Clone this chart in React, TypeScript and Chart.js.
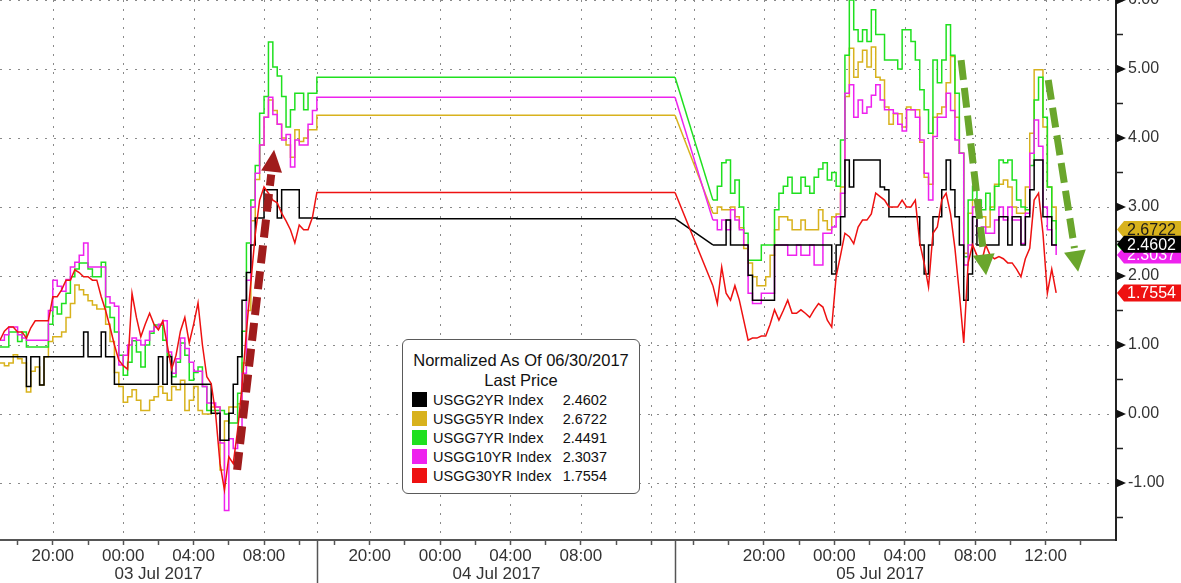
import React, { useEffect, useRef } from 'react';
import { Chart, registerables } from 'chart.js';

Chart.register(...registerables);

const FONT = '"Liberation Sans", Arial, sans-serif';

// ---- series meta ----
const seriesNames = ['USGG2YR Index', 'USGG5YR Index', 'USGG7YR Index', 'USGG10YR Index', 'USGG30YR Index'];
const seriesColors = ['#000000', '#d8b21d', '#1fe01f', '#ee22ee', '#ee1111'];
const lastPrices = [2.4602, 2.6722, 2.4491, 2.3037, 1.7554];
const legendTitle = 'Normalized As Of 06/30/2017';
const legendSubtitle = 'Last Price';

// ---- time axis (hours since 17:00, 02 Jul) ----
const jul3Times = Array.from({ length: 72 }, (_, i) => i * 0.25);
const jul4Times = [18.0, 38.35];
const jul5Times = Array.from({ length: 79 }, (_, i) => 40.5 + i * 0.25);
const xMax = 63.4;

const xTickTimes = [1, 3, 5, 7, 9, 11, 13, 15, 17, 19, 21, 23, 25, 27, 29, 31, 33, 35, 37,
  39.4, 41.4, 43.4, 45.4, 47.4, 49.4, 51.4, 53.4, 55.4, 57.4, 59.4, 61.4];
const xLabelTimes = [3, 7, 11, 15, 21, 25, 29, 33, 43.4, 47.4, 51.4, 55.4, 59.4];
const xLabelTexts = ['20:00', '00:00', '04:00', '08:00', '20:00', '00:00', '04:00', '08:00',
  '20:00', '00:00', '04:00', '08:00', '12:00'];
const xGridTimes = [3, 7, 11, 15, 18, 21, 25, 29, 33, 37, 38.35, 39.4, 43.4, 47.4, 51.4, 55.4, 59.4];
const daySeparators = [18.0, 38.35];
const dayLabelTimes = [9.0, 28.2, 50.0];
const dayLabels = ['03 Jul 2017', '04 Jul 2017', '05 Jul 2017'];

const yMin = -1.826;
const yMax = 6.0;
const yTickValues = [-1.5, -1, -0.5, 0, 0.5, 1, 1.5, 2, 2.5, 3, 3.5, 4, 4.5, 5, 5.5, 6];
const yGridValues = [-1, 0, 1, 2, 3, 4, 5, 6];

// ---- USGG2YR ----
const usgg2yrJul3 = [
  0.83, 0.83, 0.83, 0.83, 0.83, 0.83, 0.40, 0.83, 0.83, 0.42,
  0.83, 0.83, 0.83, 0.83, 0.83, 0.83, 0.83, 0.83, 0.83, 1.19,
  0.83, 0.83, 0.83, 1.19, 0.83, 0.83, 0.43, 0.43, 0.43, 0.43,
  0.43, 0.43, 0.43, 0.43, 0.43, 0.43, 0.83, 0.43, 0.83, 0.43,
  0.43, 0.43, 0.43, 0.43, 0.43, 0.43, 0.43, 0.43, 0.01, 0.01,
  -0.38, -0.38, 0.01, 0.43, 0.83, 1.65, 2.05, 2.45, 2.84, 2.84,
  3.25, 3.25, 3.25, 2.84, 3.25, 3.25, 3.25, 3.25, 2.84, 2.84,
  2.84, 2.84];
const usgg2yrJul4 = 2.83;
const usgg2yrJul5 = [
  2.45, 2.45, 2.45, 2.81, 2.45, 2.45, 2.45, 2.45, 2.01, 1.65,
  1.65, 1.65, 1.65, 1.65, 2.45, 2.45, 2.45, 2.45, 2.45, 2.45,
  2.45, 2.45, 2.45, 2.45, 2.45, 2.45, 2.45, 2.03, 2.45, 2.86,
  3.68, 3.29, 3.68, 3.68, 3.68, 3.68, 3.68, 3.68, 3.29, 3.25,
  2.86, 2.86, 2.86, 2.86, 2.86, 2.86, 2.86, 2.45, 2.03, 2.45,
  2.86, 2.86, 3.25, 3.68, 3.25, 2.86, 2.45, 1.65, 2.03, 2.86,
  2.45, 2.45, 2.45, 2.45, 2.45, 2.86, 2.86, 2.45, 2.86, 2.86,
  2.45, 2.86, 3.25, 3.68, 3.68, 2.86, 2.86, 2.45, 2.4602];

// ---- USGG5YR ----
const usgg5yrJul3 = [
  0.74, 0.70, 0.74, 0.86, 0.80, 0.74, 0.32, 0.62, 0.68, 0.42,
  0.83, 1.05, 1.12, 1.12, 1.19, 1.40, 1.60, 1.87, 1.80, 1.73,
  1.64, 1.58, 1.52, 1.52, 1.30, 1.05, 0.60, 0.40, 0.17, 0.25,
  0.35, 0.20, 0.05, 0.05, 0.20, 0.25, 0.40, 0.30, 0.20, 0.40,
  0.35, 0.49, 0.05, 0.20, 0.40, 0.05, 0.00, 0.00, 0.10, 0.10,
  -0.81, -0.10, 0.10, 0.10, 0.15, 0.74, 1.50, 2.80, 3.40, 3.90,
  4.30, 4.55, 4.40, 4.20, 4.00, 3.90, 3.72, 4.12, 3.95, 4.00,
  4.12, 4.12];
const usgg5yrJul4 = 4.33;
const usgg5yrJul5 = [
  2.91, 3.00, 2.96, 2.96, 3.00, 2.86, 2.70, 2.40, 2.19, 1.99,
  1.86, 1.86, 1.99, 2.30, 2.67, 2.86, 2.86, 2.81, 2.67, 2.67,
  2.81, 2.67, 2.67, 2.67, 2.96, 2.80, 2.67, 2.86, 2.90, 3.29,
  4.60, 5.30, 4.88, 5.10, 5.27, 5.03, 5.32, 4.88, 4.84, 4.45,
  4.20, 4.35, 4.35, 4.16, 4.45, 4.41, 4.41, 3.94, 3.43, 3.33,
  4.30, 4.35, 4.45, 4.80, 5.18, 4.30, 3.78, 2.33, 2.91, 3.10,
  2.86, 2.86, 2.71, 3.00, 3.33, 3.33, 3.39, 3.29, 3.00, 2.91,
  2.91, 3.29, 4.07, 4.99, 4.99, 4.16, 3.29, 3.00, 2.6722];

// ---- USGG7YR ----
const usgg7yrJul3 = [
  0.97, 0.97, 1.19, 1.19, 1.05, 1.19, 0.97, 0.97, 0.97, 0.97,
  0.97, 1.30, 1.55, 1.45, 1.60, 1.75, 1.99, 2.10, 2.19, 2.19,
  2.10, 1.99, 1.99, 2.20, 1.55, 1.40, 1.19, 0.85, 0.56, 0.75,
  1.06, 0.90, 0.68, 1.00, 1.17, 1.29, 1.29, 1.07, 0.85, 0.54,
  0.75, 1.03, 0.85, 0.49, 0.60, 0.68, 0.40, 0.05, 0.05, 0.05,
  0.05, 0.00, -0.13, -0.13, 0.30, 1.20, 2.48, 3.10, 3.60, 4.36,
  4.60, 5.39, 5.03, 4.90, 4.60, 4.16, 4.41, 4.65, 4.65, 4.41,
  4.65, 4.65];
const usgg7yrJul4 = 4.88;
const usgg7yrJul5 = [
  3.10, 3.30, 3.64, 3.68, 3.20, 3.39, 3.00, 2.62, 2.23, 2.23,
  2.23, 2.45, 2.45, 2.45, 2.96, 3.20, 3.30, 3.43, 3.20, 3.20,
  3.43, 3.30, 3.20, 3.43, 3.55, 3.64, 3.39, 3.50, 3.30, 3.97,
  5.20, 6.00, 5.57, 5.40, 5.57, 5.40, 5.86, 5.50, 5.50, 5.13,
  5.13, 5.13, 5.00, 5.57, 5.57, 5.40, 5.13, 4.70, 4.41, 4.07,
  5.13, 4.80, 5.13, 5.64, 5.20, 4.65, 3.78, 2.28, 3.10, 3.30,
  3.10, 2.96, 3.20, 2.96, 3.30, 3.68, 3.64, 3.68, 3.39, 3.10,
  3.00, 2.96, 3.60, 4.55, 4.88, 4.30, 3.29, 2.80, 2.4491];

// ---- USGG10YR ----
const usgg10yrJul3 = [
  1.07, 1.15, 1.26, 1.26, 1.15, 1.10, 1.07, 1.07, 1.07, 1.07,
  1.07, 1.50, 1.94, 1.85, 1.78, 1.95, 2.13, 2.20, 2.30, 2.48,
  2.13, 2.13, 2.13, 2.13, 1.70, 1.61, 1.56, 0.71, 0.85, 1.00,
  1.10, 1.07, 1.00, 1.07, 1.20, 1.26, 1.30, 1.35, 0.90, 0.59,
  0.80, 1.10, 0.95, 0.75, 0.62, 0.62, 0.40, 0.16, 0.16, 0.10,
  -0.42, -1.40, -0.36, -0.50, -0.40, 0.59, 1.94, 3.00, 3.49, 3.90,
  4.30, 4.59, 4.34, 4.20, 3.97, 4.05, 3.58, 3.97, 3.90, 3.90,
  4.20, 4.40];
const usgg10yrJul4 = 4.59;
const usgg10yrJul5 = [
  2.81, 2.67, 2.81, 2.67, 2.96, 2.81, 2.67, 2.45, 1.75, 1.60,
  1.60, 1.75, 1.75, 1.75, 2.45, 2.45, 2.45, 2.30, 2.30, 2.45,
  2.30, 2.30, 2.45, 2.16, 2.16, 2.62, 2.62, 2.71, 2.86, 3.20,
  4.65, 4.77, 4.30, 4.55, 4.36, 4.45, 4.62, 4.77, 4.55, 4.41,
  4.41, 4.36, 4.20, 4.10, 4.41, 4.41, 4.30, 3.97, 3.49, 3.10,
  4.02, 4.30, 4.30, 4.65, 4.40, 3.97, 3.78, 2.16, 2.45, 3.00,
  2.62, 2.71, 2.62, 2.62, 2.81, 3.00, 2.81, 3.00, 2.81, 2.81,
  2.47, 2.91, 3.78, 4.26, 3.88, 3.00, 2.67, 2.45, 2.3037];

// ---- USGG30YR ----
const usgg30yrJul3 = [
  1.07, 1.20, 1.26, 1.26, 1.19, 1.19, 1.10, 1.25, 1.35, 1.35,
  1.35, 1.35, 1.70, 1.70, 1.80, 1.94, 1.94, 2.09, 2.05, 1.99,
  1.99, 1.94, 1.94, 1.70, 1.50, 1.26, 1.00, 0.78, 0.70, 0.65,
  1.75, 1.40, 1.12, 1.30, 1.46, 1.30, 1.22, 1.35, 1.00, 0.65,
  0.85, 1.20, 1.40, 1.03, 1.30, 1.61, 1.00, 0.54, 0.44, 0.00,
  -0.72, -1.10, -0.62, -0.72, -0.23, 0.40, 1.20, 1.90, 2.60, 3.10,
  3.29, 3.20, 3.10, 3.06, 2.91, 2.80, 2.67, 2.48, 2.74, 2.67,
  2.67, 2.85];
const usgg30yrJul4 = 3.21;
const usgg30yrJul5 = [
  1.86, 1.60, 2.13, 1.75, 1.65, 1.86, 1.65, 1.36, 1.07, 1.10,
  1.10, 1.13, 1.13, 1.30, 1.51, 1.36, 1.50, 1.65, 1.46, 1.46,
  1.51, 1.46, 1.40, 1.51, 1.60, 1.55, 1.36, 1.26, 1.99, 2.30,
  2.62, 2.57, 2.47, 2.71, 2.81, 2.81, 2.90, 3.20, 3.15, 3.10,
  3.00, 3.00, 3.00, 3.10, 3.00, 3.00, 3.10, 2.48, 2.19, 1.84,
  2.62, 2.71, 3.10, 3.20, 2.90, 2.40, 1.75, 1.03, 2.19, 2.45,
  2.30, 2.19, 2.45, 2.30, 2.25, 2.28, 2.25, 2.19, 2.19, 2.10,
  1.99, 2.25, 2.40, 3.10, 3.20, 2.62, 1.75, 2.10, 1.7554];

// ---- annotation arrows (time in hours, value) ----
const arrowTails = [[13.47, -0.81], [54.6, 5.13], [59.55, 4.84]];
const arrowTips = [[15.57, 3.83], [56.02, 2.01], [61.25, 2.06]];
const arrowColors = ['#a01c1c', '#6aa62c', '#6aa62c'];

const seriesJul3 = [usgg2yrJul3, usgg5yrJul3, usgg7yrJul3, usgg10yrJul3, usgg30yrJul3];
const seriesJul4 = [usgg2yrJul4, usgg5yrJul4, usgg7yrJul4, usgg10yrJul4, usgg30yrJul4];
const seriesJul5 = [usgg2yrJul5, usgg5yrJul5, usgg7yrJul5, usgg10yrJul5, usgg30yrJul5];
const drawOrder = [1, 4, 3, 2, 0];
const tagOrder = [2, 3, 1, 4, 0];

function buildDatasets() {
  const out: any[] = [];
  seriesNames.forEach((name, i) => {
    const a = [
      ...jul3Times.map((t, k) => ({ x: t, y: seriesJul3[i][k] })),
      ...jul4Times.map((t) => ({ x: t, y: seriesJul4[i] })),
    ];
    const b = jul5Times.map((t, k) => ({ x: t, y: seriesJul5[i][k] }));
    const stepped = i !== 4;
    const base = {
      borderColor: seriesColors[i],
      backgroundColor: seriesColors[i],
      borderWidth: 1.5,
      pointRadius: 0,
      fill: false,
      tension: 0,
      order: drawOrder[i],
    };
    out.push({ ...base, label: name, data: a, stepped });
    out.push({ ...base, label: name + ' bridge', data: [a[a.length - 1], b[0]], stepped: false });
    out.push({ ...base, label: name + ' 05', data: b, stepped });
  });
  return out;
}

function drawArrow(ctx: CanvasRenderingContext2D, x0: number, y0: number, x1: number, y1: number,
  color: string, w: number, headLen: number, headW: number, dash: number[]) {
  const dx = x1 - x0, dy = y1 - y0;
  const L = Math.hypot(dx, dy);
  const ux = dx / L, uy = dy / L;
  const bx = x1 - ux * headLen, by = y1 - uy * headLen;
  ctx.save();
  ctx.strokeStyle = color;
  ctx.lineWidth = w;
  ctx.setLineDash(dash);
  ctx.lineCap = 'butt';
  ctx.beginPath();
  ctx.moveTo(x0, y0);
  ctx.lineTo(bx - ux * 3, by - uy * 3);
  ctx.stroke();
  ctx.setLineDash([]);
  ctx.fillStyle = color;
  ctx.beginPath();
  ctx.moveTo(x1, y1);
  ctx.lineTo(bx - uy * headW / 2, by + ux * headW / 2);
  ctx.lineTo(bx + uy * headW / 2, by - ux * headW / 2);
  ctx.closePath();
  ctx.fill();
  ctx.restore();
}

const overlayPlugin = {
  id: 'overlay',
  beforeDatasetsDraw(chart: any) {
    const { ctx, chartArea: a, scales } = chart;
    const x = scales.x, y = scales.y;
    ctx.save();
    ctx.strokeStyle = '#8a8a8a';
    ctx.lineWidth = 1;
    ctx.setLineDash([2, 7]);
    xGridTimes.forEach((t) => {
      const px = Math.round(x.getPixelForValue(t)) + 0.5;
      ctx.beginPath();
      ctx.moveTo(px, a.top);
      ctx.lineTo(px, a.bottom);
      ctx.stroke();
    });
    yGridValues.forEach((v) => {
      const py = Math.round(y.getPixelForValue(v)) + 0.5;
      ctx.beginPath();
      ctx.moveTo(a.left, py);
      ctx.lineTo(a.right, py);
      ctx.stroke();
    });
    ctx.restore();
  },
  afterDatasetsDraw(chart: any) {
    const { ctx, scales } = chart;
    const x = scales.x, y = scales.y;
    arrowTails.forEach((tail, i) => {
      const tip = arrowTips[i];
      const red = i === 0;
      drawArrow(ctx, x.getPixelForValue(tail[0]), y.getPixelForValue(tail[1]),
        x.getPixelForValue(tip[0]), y.getPixelForValue(tip[1]), arrowColors[i],
        red ? 8 : 7, red ? 22 : 21, red ? 21 : 22, red ? [18, 8] : [20, 8]);
    });
  },
  afterDraw(chart: any) {
    const { ctx, chartArea: a, scales } = chart;
    const x = scales.x, y = scales.y;
    ctx.save();
    // day separators
    ctx.strokeStyle = '#555';
    ctx.lineWidth = 1.5;
    daySeparators.forEach((t) => {
      const px = Math.round(x.getPixelForValue(t)) + 0.5;
      ctx.beginPath();
      ctx.moveTo(px, a.bottom);
      ctx.lineTo(px, x.bottom);
      ctx.stroke();
    });
    // day labels
    ctx.fillStyle = '#333';
    ctx.font = `17px ${FONT}`;
    ctx.textAlign = 'center';
    ctx.textBaseline = 'alphabetic';
    dayLabels.forEach((d, i) => {
      ctx.fillText(d, x.getPixelForValue(dayLabelTimes[i]), x.bottom - 4);
    });
    // major tick triangles on right axis
    ctx.fillStyle = '#111';
    yGridValues.forEach((v) => {
      const py = y.getPixelForValue(v);
      ctx.beginPath();
      ctx.moveTo(a.right, py - 4.5);
      ctx.lineTo(a.right + 10, py);
      ctx.lineTo(a.right, py + 4.5);
      ctx.closePath();
      ctx.fill();
    });
    // last price tags
    ctx.font = `16px ${FONT}`;
    ctx.textAlign = 'left';
    ctx.textBaseline = 'middle';
    tagOrder.forEach((i) => {
      const py = y.getPixelForValue(lastPrices[i]);
      const h = 8.5;
      ctx.fillStyle = seriesColors[i];
      ctx.beginPath();
      ctx.moveTo(a.right + 1, py);
      ctx.lineTo(a.right + 8, py - h);
      ctx.lineTo(chart.width, py - h);
      ctx.lineTo(chart.width, py + h);
      ctx.lineTo(a.right + 8, py + h);
      ctx.closePath();
      ctx.fill();
      ctx.fillStyle = i === 1 || i === 2 ? '#1a1a1a' : '#ffffff';
      ctx.fillText(lastPrices[i].toFixed(4), a.right + 11, py + 1);
    });
    ctx.restore();
  },
};

function labelFor(v: number) {
  const k = xLabelTimes.findIndex((t) => Math.abs(t - v) < 1e-6);
  return k >= 0 ? xLabelTexts[k] : '';
}

function Legend() {
  return (
    <div style={{
      position: 'absolute', left: 402, top: 339, width: 238, height: 155,
      border: '1px solid #5a5a5a', borderRadius: 6, background: '#fff',
      boxSizing: 'border-box', paddingTop: 10, color: '#111', fontFamily: FONT,
    }}>
      <div style={{ textAlign: 'center', fontSize: 16.5, lineHeight: '20px', whiteSpace: 'nowrap' }}>{legendTitle}</div>
      <div style={{ textAlign: 'center', fontSize: 16.5, lineHeight: '20px' }}>{legendSubtitle}</div>
      {seriesNames.map((n, i) => (
        <div key={n} style={{ display: 'flex', alignItems: 'center', height: 19, paddingLeft: 9, fontSize: 14.5, whiteSpace: 'nowrap' }}>
          <span style={{ display: 'inline-block', width: 15, height: 15, background: seriesColors[i], marginRight: 6 }} />
          <span style={{ flex: 1 }}>{n}</span>
          <span style={{ marginRight: 32 }}>{lastPrices[i].toFixed(4)}</span>
        </div>
      ))}
    </div>
  );
}

export default function App() {
  const canvasRef = useRef<HTMLCanvasElement>(null);
  useEffect(() => {
    const chart = new Chart(canvasRef.current as HTMLCanvasElement, {
      type: 'line',
      data: { datasets: buildDatasets() },
      options: {
        animation: false,
        responsive: false,
        maintainAspectRatio: false,
        layout: { padding: 0, autoPadding: false },
        plugins: { legend: { display: false }, tooltip: { enabled: false } },
        elements: { point: { radius: 0 } },
        scales: {
          x: {
            type: 'linear', position: 'bottom', min: 0, max: xMax,
            afterBuildTicks: (s: any) => { s.ticks = xTickTimes.map((v) => ({ value: v })); },
            afterFit: (s: any) => { s.height = 43; s.paddingLeft = 0; s.paddingRight = 0; },
            ticks: {
              autoSkip: false, maxRotation: 0, minRotation: 0, padding: 1,
              color: '#333', font: { family: FONT, size: 17 },
              callback: (v: any) => labelFor(Number(v)),
            },
            grid: { drawOnChartArea: false, drawTicks: true, tickLength: 5, tickColor: '#555', tickWidth: 1.5 },
            border: { display: true, color: '#555', width: 2 },
          },
          y: {
            type: 'linear', position: 'right', min: yMin, max: yMax,
            afterBuildTicks: (s: any) => { s.ticks = yTickValues.map((v) => ({ value: v })); },
            afterFit: (s: any) => { s.width = 65; s.paddingTop = 0; s.paddingBottom = 0; },
            ticks: {
              padding: 5, color: '#333', font: { family: FONT, size: 16 },
              callback: (v: any) => (Math.abs(Number(v) - Math.round(Number(v))) < 1e-9 ? Number(v).toFixed(2) : ''),
            },
            grid: { drawOnChartArea: false, drawTicks: true, tickLength: 7, tickColor: '#222', tickWidth: 1.5 },
            border: { display: true, color: '#222', width: 2 },
          },
        },
      },
      plugins: [overlayPlugin],
    } as any);
    return () => chart.destroy();
  }, []);
  return (
    <div style={{ position: 'fixed', left: 0, top: 0, width: 1181, height: 583, background: '#fff' }}>
      <canvas ref={canvasRef} width={1181} height={583} style={{ display: 'block' }} />
      <Legend />
    </div>
  );
}
